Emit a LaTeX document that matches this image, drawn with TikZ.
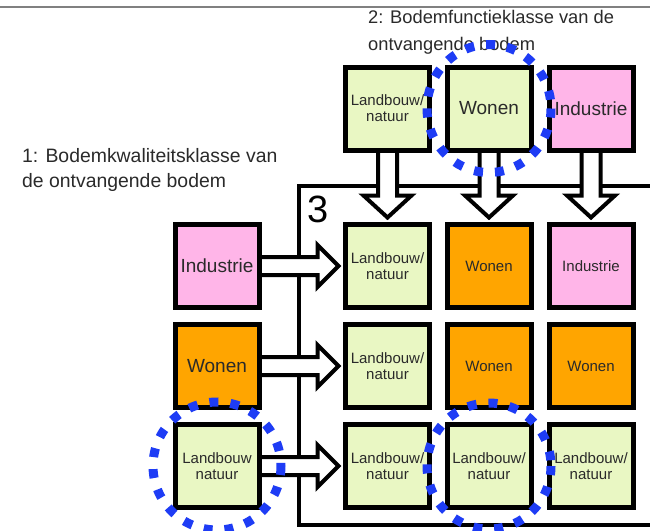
\documentclass[tikz,border=0pt]{standalone}
\usepackage{fontspec}
\setmainfont{Liberation Sans}
\usetikzlibrary{shadows}
\definecolor{lgreen}{HTML}{E9F7C3}
\definecolor{orng}{HTML}{FFA500}
\definecolor{pnk}{HTML}{FFB5E8}
\definecolor{dblue}{HTML}{1E3CF5}
\definecolor{txt}{HTML}{2A2A2A}
\begin{document}
\begin{tikzpicture}[x=1pt,y=-1pt,
  box/.style={draw=black, line width=5pt, minimum width=84pt, minimum height=83pt,
    inner sep=0pt, align=center, text=txt,
    drop shadow={shadow xshift=2pt,shadow yshift=-2pt,opacity=0.35,fill=black}},
  smalltxt/.style={font=\fontsize{15}{16}\selectfont},
  bigtxt/.style={font=\fontsize{19}{22}\selectfont},
  gbox/.style={box, fill=lgreen},
  obox/.style={box, fill=orng},
  pbox/.style={box, fill=pnk},
  blockarrow/.style={draw=black, line width=4pt, fill=white, line join=miter},
  ring/.style={draw=dblue, line width=9pt, dash pattern=on 9pt off 12pt},
  labeltxt/.style={align=left, inner sep=0pt, text=txt}
]
\useasboundingbox (0,0) rectangle (650,530);
\fill[white] (0,0) rectangle (650,530);

% top rule
\draw[gray, line width=1.5pt] (0,7) -- (650,7);

% frame 3
\draw[line width=4pt] (665,186) -- (299,186) -- (299,525) -- (665,525);
\node[inner sep=0pt, font=\fontsize{38}{38}\selectfont] (three) at (318,209) {3};

% top row
\node[gbox, smalltxt] (T1) at (387.5,108.5) {Landbouw/\\natuur};
\node[gbox, bigtxt] (T2) at (489,108.5) {Wonen};
\node[pbox, bigtxt] (T3) at (591,108.5) {Industrie};

% left column
\node[pbox, bigtxt] (L1) at (217,266) {Industrie};
\node[obox, bigtxt] (L2) at (217,366) {Wonen};
\node[gbox, smalltxt] (L3) at (217,466) {Landbouw\\natuur};

% vertical arrows
\foreach \t in {T1,T2,T3}{
  \draw[blockarrow] (\t.south) ++(-9.5,-3) -- ++(0,46) -- ++(-14.5,0) -- ++(24,22)
     -- ++(24,-22) -- ++(-14.5,0) -- ++(0,-46) -- cycle;
}
% horizontal arrows
\foreach \l in {L1,L2,L3}{
  \draw[blockarrow] (\l.east) ++(-3,-9) -- ++(59,0) -- ++(0,-12) -- ++(21,21)
     -- ++(-21,21) -- ++(0,-12) -- ++(-59,0) -- cycle;
}

% redraw boxes on top of arrow tails
\node[gbox, smalltxt] at (T1) {Landbouw/\\natuur};
\node[gbox, bigtxt] at (T2) {Wonen};
\node[pbox, bigtxt] at (T3) {Industrie};
\node[pbox, bigtxt] at (L1) {Industrie};
\node[obox, bigtxt] at (L2) {Wonen};
\node[gbox, smalltxt] at (L3) {Landbouw\\natuur};

% grid
\node[gbox, smalltxt] (G11) at (387.5,266) {Landbouw/\\natuur};
\node[obox, smalltxt] (G12) at (489,266) {Wonen};
\node[pbox, smalltxt] (G13) at (591,266) {Industrie};
\node[gbox, smalltxt] (G21) at (387.5,366) {Landbouw/\\natuur};
\node[obox, smalltxt] (G22) at (489,366) {Wonen};
\node[obox, smalltxt] (G23) at (591,366) {Wonen};
\node[gbox, smalltxt] (G31) at (387.5,466) {Landbouw/\\natuur};
\node[gbox, smalltxt] (G32) at (489,466) {Landbouw/\\natuur};
\node[gbox, smalltxt] (G33) at (591,466) {Landbouw/\\natuur};

% labels
\node[labeltxt, anchor=west, font=\fontsize{18.3}{27}\selectfont] (lab2) at (368,32) {2: Bodemfunctieklasse van de\\ontvangende bodem};
\node[labeltxt, anchor=west, font=\fontsize{19.4}{25}\selectfont] (lab1) at (22,170) {1: Bodemkwaliteitsklasse van\\de ontvangende bodem};

% dashed rings
\draw[ring] (T2) ellipse [x radius=62, y radius=64];
\draw[ring] (L3) circle [radius=64];
\draw[ring] (G32) ellipse [x radius=62, y radius=63];
\end{tikzpicture}
\end{document}
